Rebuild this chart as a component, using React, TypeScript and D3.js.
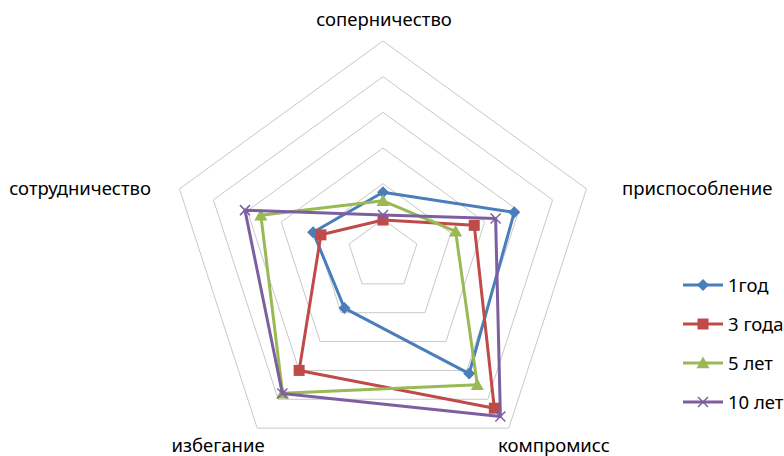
import React from "react";
import * as d3 from "d3";

const axes = ["соперничество", "приспособление", "компромисс", "избегание", "сотрудничество"];
const seriesNames = ["1год", "3 года", "5 лет", "10 лет"];
const god1 = [1.76, 3.87, 4.11, 1.84, 2.06];
const goda3 = [0.98, 2.69, 5.31, 4.0, 1.83];
const let5 = [1.52, 2.14, 4.5, 4.79, 3.6];
const let10 = [1.12, 3.32, 5.6, 4.8, 4.07];
const ringTicks = [1, 2, 3, 4, 5, 6];

const colors = ["#4a7ebb", "#be4b48", "#98b954", "#7d5fa0"];
const markers = ["diamond", "square", "triangle", "cross"];

const W = 784;
const H = 456;
const cx = 383;
const cy = 255;
const R = 214;

const rScale = d3.scaleLinear().domain([0, 6]).range([0, R]);
const angle = (i: number) => (i * 2 * Math.PI) / axes.length;
const pt = (i: number, v: number): [number, number] => [
  cx + rScale(v) * Math.sin(angle(i)),
  cy - rScale(v) * Math.cos(angle(i)),
];

const Marker = ({ type, x, y, color }: { type: string; x: number; y: number; color: string }) => {
  if (type === "diamond") {
    const s = 6;
    return <path d={`M${x},${y - s}L${x + s},${y}L${x},${y + s}L${x - s},${y}Z`} fill={color} />;
  }
  if (type === "square") {
    const s = 5.5;
    return <rect x={x - s} y={y - s} width={s * 2} height={s * 2} fill={color} />;
  }
  if (type === "triangle") {
    const s = 6.5;
    return <path d={`M${x},${y - s}L${x + s},${y + s * 0.8}L${x - s},${y + s * 0.8}Z`} fill={color} />;
  }
  const s = 5;
  return (
    <path
      d={`M${x - s},${y - s}L${x + s},${y + s}M${x + s},${y - s}L${x - s},${y + s}`}
      stroke={color}
      strokeWidth={1.5}
    />
  );
};

const App = () => {
  const data = [god1, goda3, let5, let10];
  const line = d3.line<[number, number]>().curve(d3.curveLinearClosed);

  const labelPos: { x: number; y: number; anchor: string }[] = [
    { x: 384, y: 26, anchor: "middle" },
    { x: 622, y: 195, anchor: "start" },
    { x: 554, y: 452, anchor: "middle" },
    { x: 218, y: 452, anchor: "middle" },
    { x: 151, y: 195, anchor: "end" },
  ];

  return (
    <svg
      width={W}
      height={H}
      style={{ position: "absolute", left: 0, top: 0, background: "#fff" }}
      fontFamily="'Noto Sans', sans-serif"
    >
      {/* Grid rings */}
      {ringTicks.map((t) => (
        <path
          key={t}
          d={line(axes.map((_, i) => pt(i, t))) || ""}
          fill="none"
          stroke="#c8c8c8"
          strokeWidth={1}
        />
      ))}
      {/* Axis labels */}
      {axes.map((a, i) => (
        <text
          key={a}
          x={labelPos[i].x}
          y={labelPos[i].y}
          textAnchor={labelPos[i].anchor}
          fontSize="18.5px"
          fill="#000"
        >
          {a}
        </text>
      ))}
      {/* Series */}
      {data.map((vals, s) => {
        const pts = vals.map((v, i) => pt(i, v));
        return (
          <g key={seriesNames[s]}>
            <path d={line(pts) || ""} fill="none" stroke={colors[s]} strokeWidth={3} strokeLinejoin="round" />
            {pts.map((p, i) => (
              <Marker key={i} type={markers[s]} x={p[0]} y={p[1]} color={colors[s]} />
            ))}
          </g>
        );
      })}
      {/* Legend */}
      {seriesNames.map((n, s) => {
        const y = 285 + s * 39;
        return (
          <g key={n}>
            <line x1={683} x2={723} y1={y} y2={y} stroke={colors[s]} strokeWidth={3} />
            <Marker type={markers[s]} x={703} y={y} color={colors[s]} />
            <text x={728} y={y + 6.5} fontSize="18.5px" fill="#000">
              {n}
            </text>
          </g>
        );
      })}
    </svg>
  );
};

export default App;
